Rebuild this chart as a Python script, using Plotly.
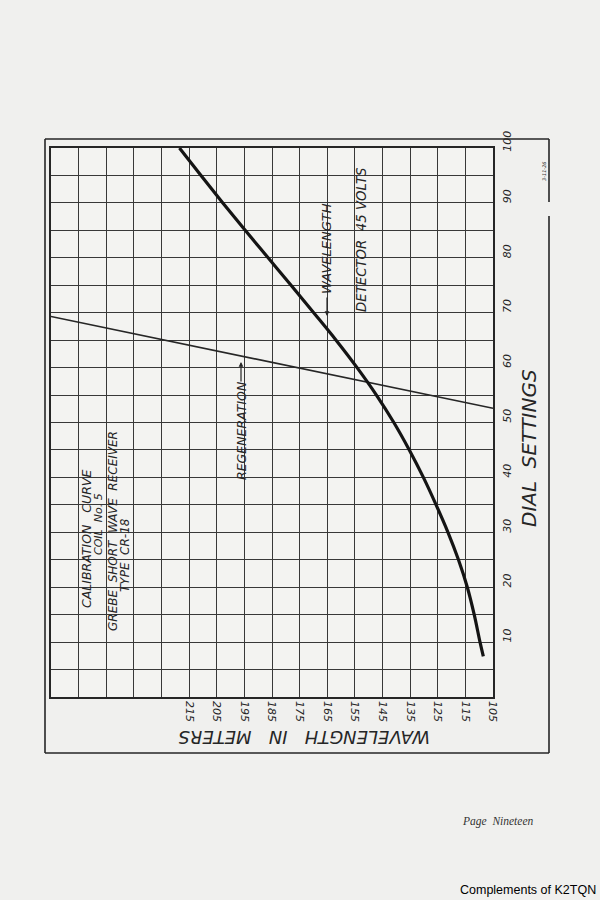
import plotly.graph_objects as go

# wavelength curve
dial_settings = [100, 95, 90, 85, 80, 75, 70, 65, 60, 55, 50, 45, 40, 35, 30, 25, 20, 15, 10, 7.4]
wavelength_m = [218.5, 210.7, 202.8, 194.7, 186.4, 178.1, 169.9, 161.8, 154.2, 147.2, 140.9, 135.3,
                130.2, 125.6, 121.3, 117.5, 114.3, 111.8, 109.7, 108.5]

# regeneration line
regen_wl = [265, 105]
regen_dial = [69.3, 52.6]

wavelength_ticks = [105, 115, 125, 135, 145, 155, 165, 175, 185, 195, 205, 215]
dial_ticks = [10, 20, 30, 40, 50, 60, 70, 80, 90, 100]

INK = "#262626"
GRID = "#383838"
HAND = dict(family="DejaVu Sans", color=INK, style="italic")

fig = go.Figure()
fig.add_trace(go.Scatter(x=regen_wl, y=regen_dial, mode="lines",
                         line=dict(color=INK, width=1.6), hoverinfo="skip"))
fig.add_trace(go.Scatter(x=wavelength_m, y=dial_settings, mode="lines",
                         line=dict(color="#141414", width=3.2, shape="spline", smoothing=1),
                         hoverinfo="skip"))

fig.update_layout(
    width=600, height=900,
    margin=dict(l=51, r=107, t=148, b=203),
    paper_bgcolor="#f0f0ee", plot_bgcolor="#f3f3f1",
    showlegend=False,
    xaxis=dict(range=[265, 105], tickvals=wavelength_ticks, tickangle=90,
               showgrid=True, gridcolor=GRID, gridwidth=1.2, zeroline=False,
               minor=dict(tick0=105, dtick=10, showgrid=True, gridcolor=GRID, gridwidth=1.2),
               showline=True, mirror=True, linecolor=INK, linewidth=1.6,
               ticks="", tickfont=dict(size=11, **HAND)),
    yaxis=dict(range=[0, 100], tickvals=dial_ticks, tickangle=-90, side="right",
               showgrid=True, gridcolor=GRID, gridwidth=1.2, zeroline=False,
               minor=dict(tick0=0, dtick=5, showgrid=True, gridcolor=GRID, gridwidth=1.2),
               showline=True, mirror=True, linecolor=INK, linewidth=1.6,
               ticks="", ticklabelstandoff=3, ticklabelshift=-5,
               tickfont=dict(size=11, **HAND)),
)


def px_x(x):
    return (x - 51) / 442


def px_y(y):
    return (697 - y) / 549


def note(text, x, y, size, angle=-90, **kw):
    fig.add_annotation(text=text, x=px_x(x), y=px_y(y), xref="paper", yref="paper",
                       xanchor="center", yanchor="middle",
                       showarrow=False, textangle=angle,
                       font=dict(size=size, **HAND), **kw)


note("DIAL  SETTINGS", 529, 448, 20)
note("WAVELENGTH   IN   METERS", 304, 738, 18)
note("CALIBRATION   CURVE", 86, 539, 12.5)
note("COIL  No. 5", 98, 524, 11)
note("GREBE  SHORT  WAVE  RECEIVER", 113, 531, 12)
note("TYPE  CR-18", 125, 555, 12)
note("REGENERATION", 241, 431, 12.5)
note("WAVELENGTH", 327, 249, 13)
note("DETECTOR  45 VOLTS", 361, 240, 13.3)
note("3-11-26", 544, 171, 5)
fig.layout.annotations[1].textangle = 180

# little arrows from the labels to the lines
for tip, tail in [((241, 362), (241, 383)), ((327, 316), (327, 296))]:
    fig.add_annotation(text="", x=px_x(tip[0]), y=px_y(tip[1]), xref="paper", yref="paper",
                       ax=tail[0] - tip[0], ay=tail[1] - tip[1],
                       showarrow=True, arrowhead=2, arrowsize=0.8, arrowwidth=1.2,
                       arrowcolor=INK)

fig.add_annotation(text="Page  Nineteen", x=px_x(498), y=px_y(821), xref="paper", yref="paper",
                   xanchor="center", yanchor="middle", showarrow=False,
                   font=dict(family="Liberation Serif", size=11.5, color="#333", style="italic"))
fig.add_annotation(text="Complements of K2TQN", x=px_x(598), y=px_y(890), xref="paper", yref="paper",
                   xanchor="right", yanchor="middle", showarrow=False,
                   font=dict(family="Liberation Sans", size=12.5, color="#000"))

# outer frame of the drawing (right side has a small break)
frame = [((45, 139), (549, 139)), ((45, 139), (45, 753)), ((45, 753), (549, 753)),
         ((549, 139), (549, 202)), ((549, 216), (549, 753))]
for (x0, y0), (x1, y1) in frame:
    fig.add_shape(type="line", xref="paper", yref="paper",
                  x0=px_x(x0), y0=px_y(y0), x1=px_x(x1), y1=px_y(y1),
                  line=dict(color=INK, width=1.6))

fig.write_html("out.html", config={"displayModeBar": False},
               post_script="document.body.style.margin='0';"
                           "document.body.style.background='#f0f0ee';")
